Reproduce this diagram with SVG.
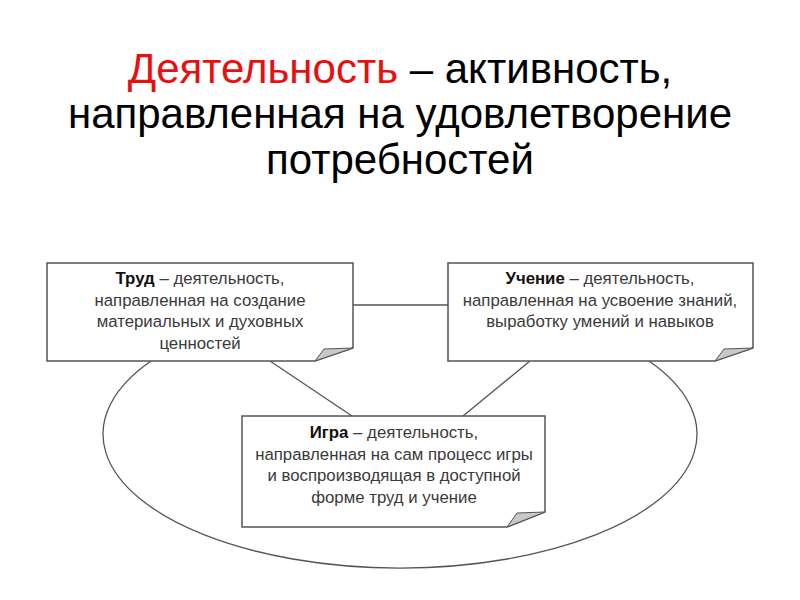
<svg xmlns="http://www.w3.org/2000/svg" width="800" height="600" viewBox="0 0 800 600">
<style>
.title{font-family:"Liberation Sans",Arial,sans-serif;font-size:42px;fill:#000;text-anchor:middle}
.red{fill:#e8100f}
.bt{font-family:"Liberation Sans",Arial,sans-serif;font-size:16.8px;fill:#3a3a3a;text-anchor:middle}
.b{font-weight:bold;fill:#111}
.box{fill:#fff;stroke:#555;stroke-width:1.5}
.flap{fill:#c8c8c8;stroke:#555;stroke-width:1}
.ln{fill:none;stroke:#555;stroke-width:1.3}
</style>
<rect width="800" height="600" fill="#fff"/>
<g id="title">
<text class="title" x="400" y="83"><tspan class="red">Деятельность</tspan> – активность,</text>
<text class="title" x="400" y="128">направленная на удовлетворение</text>
<text class="title" x="400" y="174">потребностей</text>
</g>
<g id="connectors">
<path class="ln" d="M151,361 A297,134 0 1,0 649,361"/>
<line class="ln" x1="353" y1="305" x2="448" y2="305" stroke-width="2"/>
<line class="ln" x1="270" y1="361" x2="352" y2="416"/>
<line class="ln" x1="530" y1="361" x2="463" y2="416"/>
</g>
<g id="trud">
<path class="box" d="M47,263 H353 V348 L315,361 H47 Z"/>
<path class="flap" d="M315,361 L324,349 L353,348 Z"/>
<text class="bt" x="200" y="284"><tspan class="b">Труд</tspan> – деятельность,</text>
<text class="bt" x="200" y="305.5">направленная на создание</text>
<text class="bt" x="200" y="327">материальных и духовных</text>
<text class="bt" x="200" y="348.5">ценностей</text>
</g>
<g id="uchenie">
<path class="box" d="M448,263 H753 V348 L715,361 H448 Z"/>
<path class="flap" d="M715,361 L724,349 L753,348 Z"/>
<text class="bt" x="600" y="284"><tspan class="b">Учение</tspan> – деятельность,</text>
<text class="bt" x="600" y="305.5">направленная на усвоение знаний,</text>
<text class="bt" x="600" y="327">выработку умений и навыков</text>
</g>
<g id="igra">
<path class="box" d="M242,416 H545 V512 L507,527 H242 Z"/>
<path class="flap" d="M507,527 L517,513 L545,512 Z"/>
<text class="bt" x="394" y="438"><tspan class="b">Игра</tspan> – деятельность,</text>
<text class="bt" x="394" y="459.5">направленная на сам процесс игры</text>
<text class="bt" x="394" y="481">и воспроизводящая в доступной</text>
<text class="bt" x="394" y="502.5">форме труд и учение</text>
</g>
</svg>
